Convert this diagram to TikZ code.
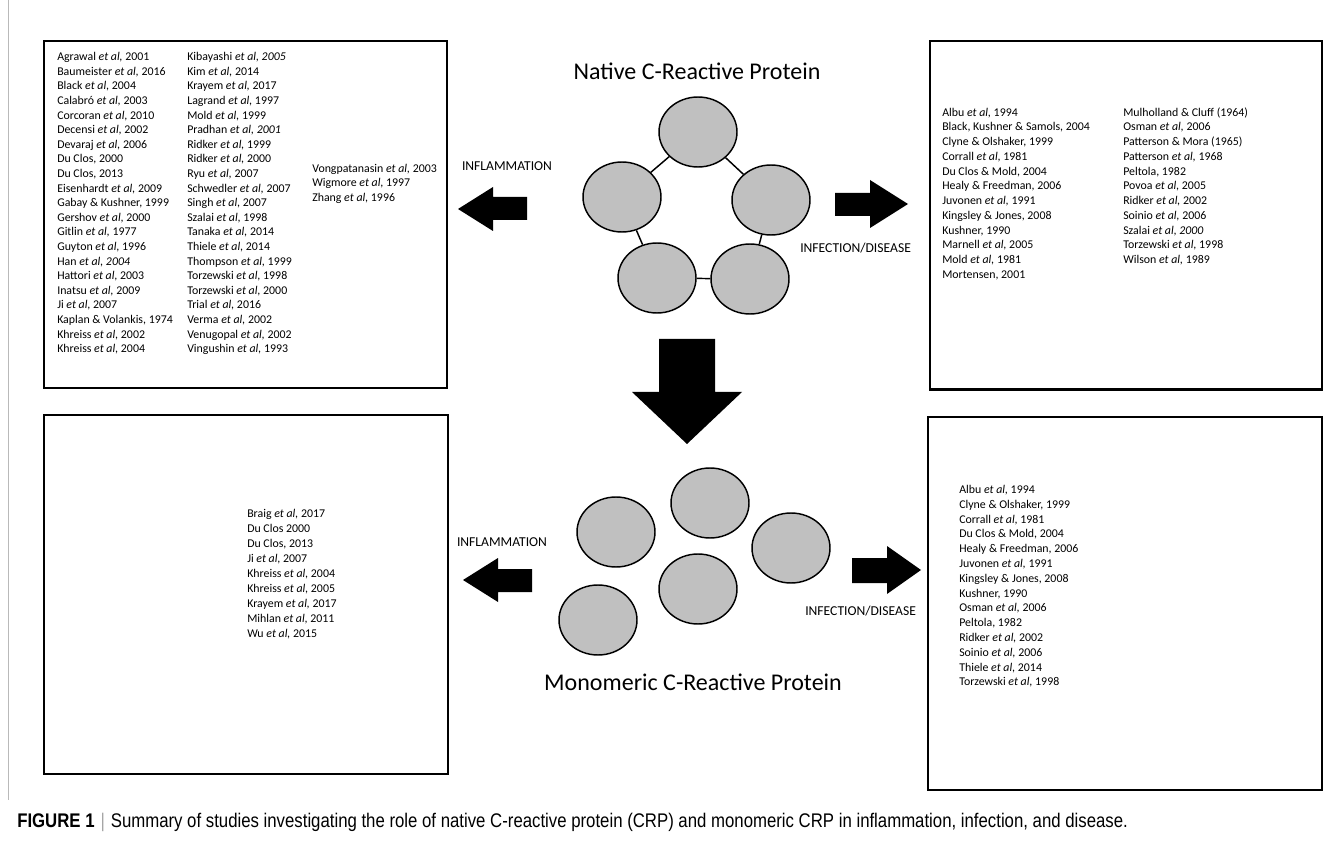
\documentclass[tikz,border=0pt]{standalone}
\usepackage{fontspec}
\setmainfont{Carlito}
\newfontfamily\capfont[FakeStretch=0.85]{Liberation Sans}
\usetikzlibrary{shapes.geometric}
\definecolor{protgray}{RGB}{192,192,192}
\newcommand\etal{\textit{et al,}}
\tikzset{
  box/.style={draw=black,line width=1.6pt},
  ref/.style={anchor=base west,inner sep=0pt,font=\fontsize{8.9}{10.7}\selectfont},
  sub/.style={draw=black,line width=1.1pt,fill=protgray,ellipse,minimum width=58.5pt,minimum height=52.5pt,inner sep=0pt},
  link/.style={draw=black,line width=1.1pt},
  blockarrow/.style={fill=black},
  lbl/.style={inner sep=0pt,font=\fontsize{10.2}{12}\selectfont},
  ttl/.style={anchor=base,inner sep=0pt,font=\fontsize{18}{21}\selectfont}
}
\begin{document}
\begin{tikzpicture}[x=0.75pt,y=-0.75pt]
\useasboundingbox (0,0) rectangle (1342,841);
\fill[white] (0,0) rectangle (1342,841);
\draw[gray!55,line width=0.6pt] (8,0) -- (8,800);

% boxes
\draw[box] (44,41) rectangle (447,388);
\draw[box] (930,41) rectangle (1322,389.5);
\draw[box] (44,415) rectangle (448,774);
\draw[box] (928,417) rectangle (1322,790);

% top-left lists
\foreach \t [count=\i] in {
 {Agrawal \etal{} 2001},{Baumeister \etal{} 2016},{Black \etal{} 2004},{Calabró \etal{} 2003},
 {Corcoran \etal{} 2010},{Decensi \etal{} 2002},{Devaraj \etal{} 2006},{Du Clos, 2000},
 {Du Clos, 2013},{Eisenhardt \etal{} 2009},{Gabay \& Kushner, 1999},{Gershov \etal{} 2000},
 {Gitlin \etal{} 1977},{Guyton \etal{} 1996},{Han \textit{et al, 2004}},{Hattori \etal{} 2003},
 {Inatsu \etal{} 2009},{Ji \etal{} 2007},{Kaplan \& Volankis, 1974},{Khreiss \etal{} 2002},
 {Khreiss \etal{} 2004}}
 \node[ref] (tla\i) at (57,{60.8+(\i-1)*14.6}) {\t};
\foreach \t [count=\i] in {
 {Kibayashi \textit{et al, 2005}},{Kim \etal{} 2014},{Krayem \etal{} 2017},{Lagrand \etal{} 1997},
 {Mold \etal{} 1999},{Pradhan \textit{et al, 2001}},{Ridker \etal{} 1999},{Ridker \etal{} 2000},
 {Ryu \etal{} 2007},{Schwedler \etal{} 2007},{Singh \etal{} 2007},{Szalai \etal{} 1998},
 {Tanaka \etal{} 2014},{Thiele \etal{} 2014},{Thompson \etal{} 1999},{Torzewski \etal{} 1998},
 {Torzewski \etal{} 2000},{Trial \etal{} 2016},{Verma \etal{} 2002},{Venugopal \etal{} 2002},
 {Vingushin \etal{} 1993}}
 \node[ref] (tlb\i) at (187,{60.8+(\i-1)*14.6}) {\t};
\foreach \t [count=\i] in {
 {Vongpatanasin \etal{} 2003},{Wigmore \etal{} 1997},{Zhang \etal{} 1996}}
 \node[ref] (tlc\i) at (312,{172.3+(\i-1)*14.6}) {\t};

% top-right lists
\foreach \t [count=\i] in {
 {Albu \etal{} 1994},{Black, Kushner \& Samols, 2004},{Clyne \& Olshaker, 1999},{Corrall \etal{} 1981},
 {Du Clos \& Mold, 2004},{Healy \& Freedman, 2006},{Juvonen \etal{} 1991},{Kingsley \& Jones, 2008},
 {Kushner, 1990},{Marnell \etal{} 2005},{Mold \etal{} 1981},{Mortensen, 2001}}
 \node[ref] (tra\i) at (942,{116.1+(\i-1)*14.75}) {\t};
\foreach \t [count=\i] in {
 {Mulholland \& Cluff (1964)},{Osman \etal{} 2006},{Patterson \& Mora (1965)},{Patterson \etal{}  1968},
 {Peltola, 1982},{Povoa \etal{} 2005},{Ridker \etal{} 2002},{Soinio \etal{} 2006},
 {Szalai \textit{et al, 2000}},{Torzewski \etal{} 1998},{Wilson \etal{} 1989}}
 \node[ref] (trb\i) at (1123,{116.1+(\i-1)*14.75}) {\t};

% bottom-left list
\foreach \t [count=\i] in {
 {Braig \etal{} 2017},{Du Clos 2000},{Du Clos, 2013},{Ji \etal{} 2007},{Khreiss \etal{} 2004},
 {Khreiss \etal{} 2005},{Krayem \etal{} 2017},{Mihlan \etal{} 2011},{Wu \etal{} 2015}}
 \node[ref] (bla\i) at (247,{517.8+(\i-1)*15}) {\t};

% bottom-right list
\foreach \t [count=\i] in {
 {Albu \etal{} 1994},{Clyne \& Olshaker, 1999},{Corrall \etal{} 1981},{Du Clos \& Mold, 2004},
 {Healy \& Freedman, 2006},{Juvonen \etal{} 1991},{Kingsley \& Jones, 2008},{Kushner, 1990},
 {Osman \etal{} 2006},{Peltola, 1982},{Ridker \etal{} 2002},{Soinio \etal{} 2006},
 {Thiele \etal{} 2014},{Torzewski \etal{} 1998}}
 \node[ref] (bra\i) at (959,{493.5+(\i-1)*14.8}) {\t};

% titles
\node[ttl] (ntitle) at (697,79.3) {Native C-Reactive Protein};
\node[ttl] (mtitle) at (693,690) {Monomeric C-Reactive Protein};

% native pentamer
\node[sub] (p1) at (698,132) {};
\node[sub] (p2) at (622,197) {};
\node[sub] (p3) at (771,200) {};
\node[sub] (p4) at (657,278) {};
\node[sub] (p5) at (750,279) {};
\draw[link] (p1) -- (p2);
\draw[link] (p1) -- (p3);
\draw[link] (p2) -- (p4);
\draw[link] (p3) -- (p5);
\draw[link] (p4) -- (p5);

% monomers
\node[sub] (m1) at (616,532) {};
\node[sub] (m2) at (710,503) {};
\node[sub] (m3) at (791,548) {};
\node[sub] (m4) at (698,589) {};
\node[sub] (m5) at (598,620) {};

% labels
\node[lbl,anchor=base] (inf1) at (507,170.7) {INFLAMMATION};
\node[lbl,anchor=base west] (dis1) at (800,252.7) {INFECTION/DISEASE};
\node[lbl,anchor=base] (inf2) at (502,546) {INFLAMMATION};
\node[lbl,anchor=base west] (dis2) at (805,615) {INFECTION/DISEASE};

% block arrows
\fill[blockarrow] (458,209) -- (493,187) -- (493,197) -- (527,197) -- (527,220) -- (493,220) -- (493,231) -- cycle;
\fill[blockarrow] (908,204) -- (870,180) -- (870,193) -- (835,193) -- (835,216) -- (870,216) -- (870,228) -- cycle;
\fill[blockarrow] (687,444) -- (632,392) -- (659,392) -- (659,339) -- (715,339) -- (715,392) -- (742,392) -- cycle;
\fill[blockarrow] (463,580) -- (498,558) -- (498,569) -- (532,569) -- (532,592) -- (498,592) -- (498,602) -- cycle;
\fill[blockarrow] (921,570) -- (887,546) -- (887,558) -- (852,558) -- (852,583) -- (887,583) -- (887,594) -- cycle;

% caption
\node[anchor=base west,inner sep=0pt] (cap) at (17,827) {\resizebox{833pt}{!}{\capfont\textbf{FIGURE 1}\hspace{0.3em}{\color{gray!70}|}\hspace{0.3em}Summary of studies investigating the role of native C-reactive protein (CRP) and monomeric CRP in inflammation, infection, and disease.}};
\end{tikzpicture}
\end{document}
